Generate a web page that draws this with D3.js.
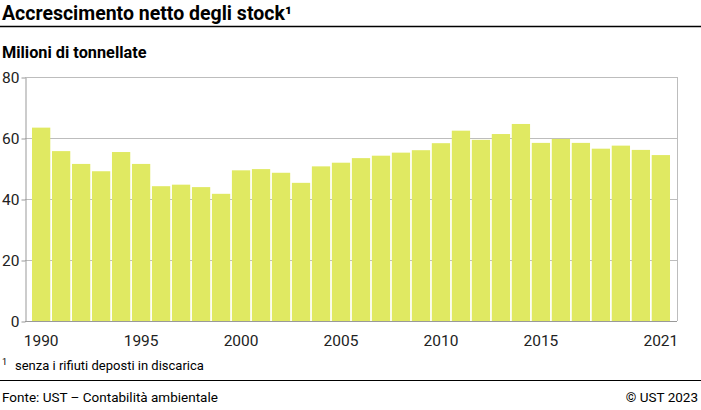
<!DOCTYPE html>
<html>
<head>
<meta charset="utf-8">
<script src="https://cdn.jsdelivr.net/npm/d3@7"></script>
<style>
  body { margin: 0; background: #fff; }
  svg { display: block; font-family: Roboto, "Noto Sans", sans-serif; }
</style>
</head>
<body>
<div id="chart"></div>
<script>
// Data
const years = d3.range(1990, 2022);
const values = [63.4, 55.7, 51.5, 49.1, 55.4, 51.5, 44.2, 44.7, 43.9, 41.7,
                49.4, 49.8, 48.6, 45.3, 50.7, 51.9, 53.4, 54.2, 55.2, 56.0,
                58.3, 62.4, 59.4, 61.3, 64.6, 58.4, 59.7, 58.4, 56.5, 57.5,
                56.1, 54.4];
const yTicks = [0, 20, 40, 60, 80];
const xTickLabels = [1990, 1995, 2000, 2005, 2010, 2015, 2021];

const data = years.map((y, i) => ({ year: y, value: values[i] }));

// Dimensions
const Width = 701, Height = 410;
const plot = { Left: 25, Right: 677, Top: 77, Bottom: 321 };

const svg = d3.select("#chart")
    .append("svg")
        .attr("width", Width)
        .attr("height", Height);

// Title
svg.append("text")
    .attr("x", 2).attr("y", 20)
    .attr("font-size", 19.5).attr("font-weight", "bold").attr("fill", "#000")
    .text("Accrescimento netto degli stock¹");
svg.append("line")
    .attr("x1", 0).attr("x2", Width).attr("y1", 26.5).attr("y2", 26.5)
    .attr("stroke", "#000").attr("stroke-width", 1.3);

svg.append("text")
    .attr("x", 2).attr("y", 58)
    .attr("font-size", 16.3).attr("font-weight", "bold").attr("fill", "#000")
    .text("Milioni di tonnellate");

// Scales
const xScale = d3.scaleBand()
    .domain(years)
    .range([plot.Left, plot.Right])
    .paddingInner(0.085)
    .paddingOuter(0.35);

const yScale = d3.scaleLinear()
    .domain([0, 80])
    .range([plot.Bottom, plot.Top]);

// Grid
svg.append("g")
    .selectAll("line")
    .data(yTicks.filter(d => d > 0))
    .join("line")
        .attr("x1", plot.Left).attr("x2", plot.Right)
        .attr("y1", d => yScale(d) + 0.5).attr("y2", d => yScale(d) + 0.5)
        .attr("stroke", "#bdbdbd").attr("stroke-width", 1);

// Right border
svg.append("line")
    .attr("x1", plot.Right + 0.5).attr("x2", plot.Right + 0.5)
    .attr("y1", plot.Top).attr("y2", plot.Bottom)
    .attr("stroke", "#bdbdbd");

// Bars
svg.append("g")
    .attr("fill", "#e0e962")
    .selectAll("rect")
    .data(data)
    .join("rect")
        .attr("x", d => xScale(d.year))
        .attr("y", d => yScale(d.value))
        .attr("width", xScale.bandwidth())
        .attr("height", d => yScale(0) - yScale(d.value));

// Y axis
svg.append("g")
    .attr("class", "yAxis")
    .attr("transform", `translate(${plot.Left + 0.5}, 0.5)`)
    .call(d3.axisLeft(yScale).tickValues(yTicks).tickSizeInner(4).tickSizeOuter(0).tickPadding(2))
    .call(g => g.select(".domain").attr("stroke", "#999"))
    .call(g => g.selectAll(".tick line").attr("stroke", "#999"))
    .call(g => g.selectAll(".tick text")
        .attr("font-size", 15.5).attr("fill", "#222").attr("font-family", "Roboto"));

// X axis
svg.append("g")
    .attr("class", "xAxis")
    .attr("transform", `translate(0, ${plot.Bottom + 0.5})`)
    .call(d3.axisBottom(xScale).tickValues(xTickLabels).tickSize(0).tickPadding(13))
    .call(g => g.select(".domain").attr("stroke", "#999").attr("d", `M${plot.Left},0H${plot.Right}`))
    .call(g => g.selectAll(".tick text")
        .attr("font-size", 15.5).attr("fill", "#222").attr("font-family", "Roboto"));

// Footnote
svg.append("text")
    .attr("x", 2).attr("y", 365)
    .attr("font-size", 9).attr("fill", "#000")
    .text("1");
svg.append("text")
    .attr("x", 15).attr("y", 370)
    .attr("font-size", 13).attr("fill", "#000")
    .text("senza i rifiuti deposti in discarica");

svg.append("line")
    .attr("x1", 0).attr("x2", Width).attr("y1", 380.5).attr("y2", 380.5)
    .attr("stroke", "#000").attr("stroke-width", 1);

svg.append("text")
    .attr("x", 2).attr("y", 402)
    .attr("font-size", 13.5).attr("fill", "#000")
    .text("Fonte: UST – Contabilità ambientale");
svg.append("text")
    .attr("x", 698).attr("y", 402)
    .attr("text-anchor", "end")
    .attr("font-size", 13.5).attr("fill", "#000")
    .text("© UST 2023");
</script>
</body>
</html>
